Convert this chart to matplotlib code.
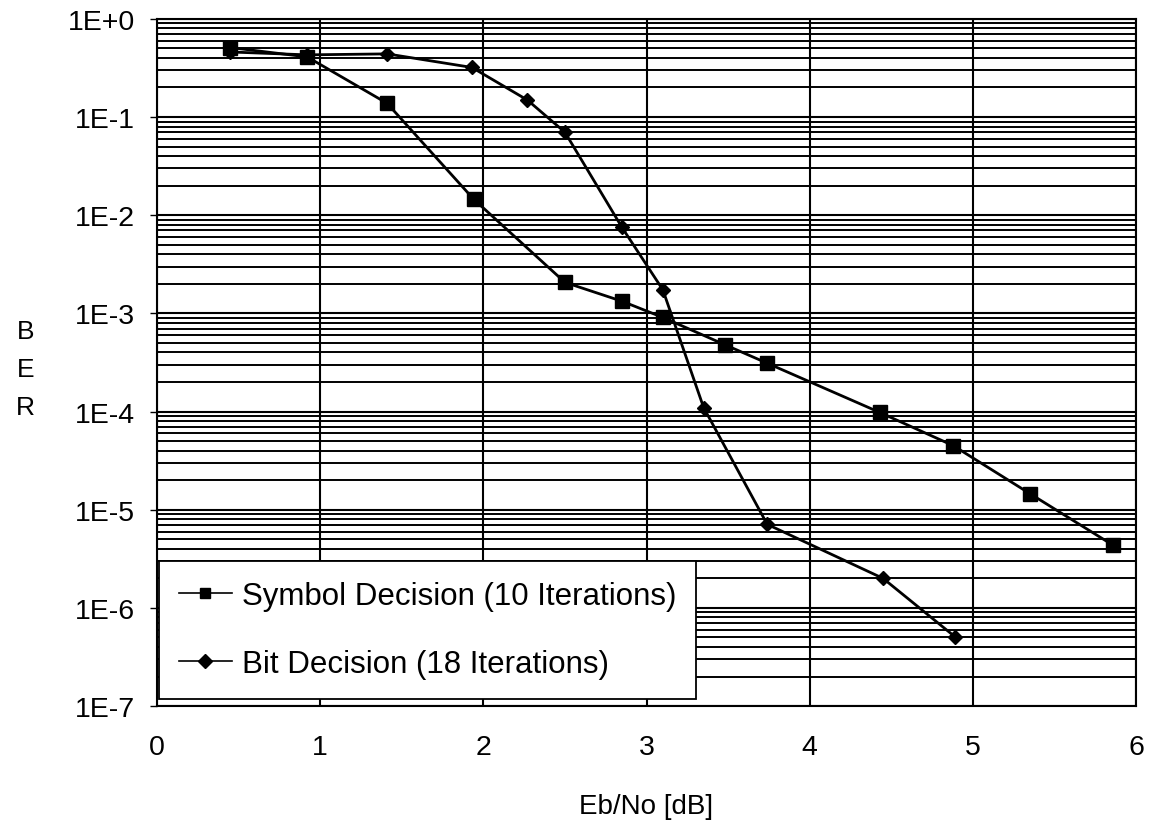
import numpy as np
import matplotlib.pyplot as plt
from matplotlib.ticker import LogLocator, FixedLocator, NullFormatter

# Symbol Decision (10 Iterations)
sym_x = [0.45, 0.92, 1.41, 1.94, 2.50, 2.85, 3.10, 3.48, 3.74, 4.43, 4.88, 5.35, 5.86]
sym_y = [0.51, 0.41, 0.138, 0.0146, 0.00207, 0.00133, 0.00091, 0.00048, 0.000311,
         9.8e-5, 4.5e-5, 1.46e-5, 4.35e-6]

# Bit Decision (18 Iterations)
bit_x = [0.45, 0.92, 1.41, 1.93, 2.27, 2.50, 2.85, 3.10, 3.35, 3.74, 4.45, 4.89]
bit_y = [0.46, 0.43, 0.44, 0.32, 0.149, 0.070, 0.0075, 0.00174, 0.000110,
         7.1e-6, 2.0e-6, 5.1e-7]

y_ticks = [1e0, 1e-1, 1e-2, 1e-3, 1e-4, 1e-5, 1e-6, 1e-7]
y_labels = ['1E+0', '1E-1', '1E-2', '1E-3', '1E-4', '1E-5', '1E-6', '1E-7']
x_ticks = [0, 1, 2, 3, 4, 5, 6]

plt.rcParams['font.family'] = ['Liberation Sans', 'DejaVu Sans']

fig = plt.figure(figsize=(11.55, 8.28), dpi=100)
ax = fig.add_axes([0.136, 0.146, 0.8475, 0.830])

ax.plot(sym_x, sym_y, color='black', lw=2, marker='s', ms=10,
        label='Symbol Decision (10 Iterations)', zorder=3)
ax.plot(bit_x, bit_y, color='black', lw=2, marker='D', ms=7,
        label='Bit Decision (18 Iterations)', zorder=3)

ax.set_yscale('log')
ax.set_xlim(0, 6)
ax.set_ylim(1e-7, 1e0)

ax.yaxis.set_major_locator(FixedLocator(y_ticks))
ax.set_yticklabels(y_labels)
ax.yaxis.set_minor_locator(LogLocator(base=10, subs=np.arange(2, 10), numticks=20))
ax.yaxis.set_minor_formatter(NullFormatter())
ax.set_xticks(x_ticks)

ax.grid(True, which='major', axis='both', color='black', lw=1.5)
ax.grid(True, which='minor', axis='y', color='black', lw=1.4)
ax.set_axisbelow(True)

ax.tick_params(axis='y', which='major', direction='out', length=5, width=1,
               labelsize=20.5, pad=11)
ax.tick_params(axis='y', which='minor', length=0)
ax.tick_params(axis='x', which='major', direction='out', length=0,
               labelsize=20.5, pad=20)
for s in ax.spines.values():
    s.set_linewidth(1.5)
    s.set_color('black')

ax.set_xlabel('Eb/No [dB]', fontsize=20, labelpad=24)
fig.text(0.022, 0.553, 'B\nE\nR', fontsize=19, ha='center', va='center',
         linespacing=1.75)

leg = ax.legend(loc='lower left', bbox_to_anchor=(0.002, 0.01), fontsize=22.5,
                frameon=True, fancybox=False, edgecolor='black',
                handlelength=1.67, handletextpad=0.32, borderpad=0.65,
                labelspacing=1.2, borderaxespad=0.0)
leg.get_frame().set_linewidth(1.3)
leg.get_frame().set_alpha(1)
for h in leg.legend_handles:
    h.set_linewidth(1.2)
    h.set_markersize(7)

fig.savefig('out.png', dpi=100)
